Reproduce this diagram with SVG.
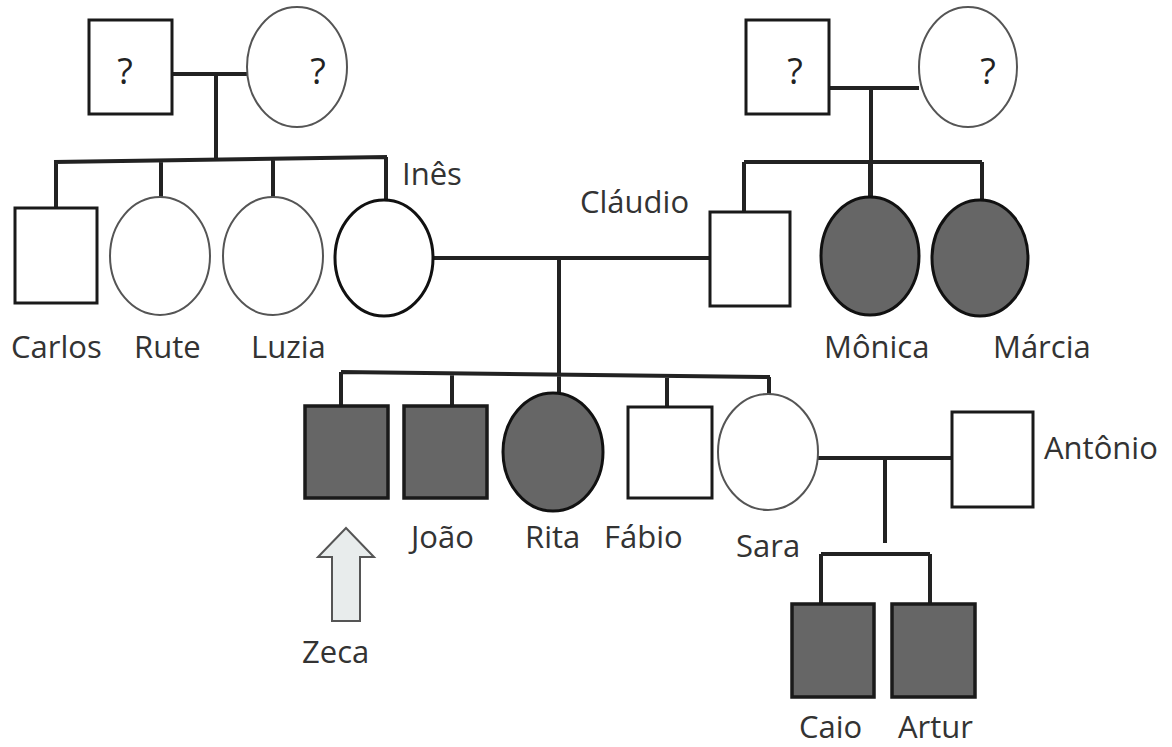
<svg xmlns="http://www.w3.org/2000/svg" width="1172" height="747" viewBox="0 0 1172 747">
<style>
.sq{fill:#fff;stroke:#1a1a1a;stroke-width:3}
.sqa{fill:#666;stroke:#1a1a1a;stroke-width:3.5}
.ci{fill:#fff;stroke:#555;stroke-width:2}
.cib{fill:#fff;stroke:#111;stroke-width:3}
.cia{fill:#666;stroke:#111;stroke-width:3}
.ln{fill:none;stroke:#222;stroke-width:4;stroke-linecap:butt}
text{font-family:"Open Sans","Noto Sans",sans-serif;font-size:31px;fill:#333}
.q{font-size:36px;fill:#222}
</style>
<rect width="1172" height="747" fill="#fff"/>
<g id="connectors">
<path class="ln" d="M172 74H247M216 74V160M54 162L387 157M56 162V208M161 160V197M273 159V197M386 157V200"/>
<path class="ln" d="M829 88H919M871 88V197M744 162H982M744 162V212M870 162V197M982 162V200"/>
<path class="ln" d="M433 258H710M559 258V393M341 372L770 377M341 372V406M452 373V406M667 375V406M769 377V394"/>
<path class="ln" d="M818 458H952M885 458V543M821 554H930M821 554V604M930 554V604"/>
</g>
<g id="gf1"><rect class="sq" x="89" y="20" width="83" height="94"/><text class="q" x="125" y="84" text-anchor="middle">?</text></g>
<g id="gm1"><ellipse class="ci" cx="297" cy="67" rx="50" ry="60"/><text class="q" x="318" y="84" text-anchor="middle">?</text></g>
<g id="gf2"><rect class="sq" x="746" y="20" width="83" height="94"/><text class="q" x="795" y="84" text-anchor="middle">?</text></g>
<g id="gm2"><ellipse class="ci" cx="968" cy="67" rx="49" ry="60"/><text class="q" x="988" y="84" text-anchor="middle">?</text></g>
<g id="carlos"><rect class="sq" x="15" y="208" width="82" height="95"/><text x="11" y="358">Carlos</text></g>
<g id="rute"><ellipse class="ci" cx="160" cy="256" rx="50" ry="59"/><text x="134" y="358">Rute</text></g>
<g id="luzia"><ellipse class="ci" cx="273" cy="256" rx="50" ry="59"/><text x="251" y="358">Luzia</text></g>
<g id="ines"><ellipse class="cib" cx="384" cy="258" rx="49" ry="58"/><text x="402" y="185">Inês</text></g>
<g id="claudio"><rect class="sq" x="710" y="212" width="80" height="94"/><text x="580" y="213">Cláudio</text></g>
<g id="monica"><ellipse class="cia" cx="870" cy="256" rx="49" ry="59"/><text x="824" y="358">Mônica</text></g>
<g id="marcia"><ellipse class="cia" cx="980" cy="258" rx="48" ry="58"/><text x="993" y="358">Márcia</text></g>
<g id="zeca"><rect class="sqa" x="305" y="406" width="83" height="92"/><polygon points="346,528 374,557 360,557 360,621 332,621 332,557 318,557" fill="#e8ecec" stroke="#555" stroke-width="2"/><text x="302" y="663">Zeca</text></g>
<g id="joao"><rect class="sqa" x="404" y="406" width="83" height="92"/><text x="411" y="548">João</text></g>
<g id="rita"><ellipse class="cia" cx="553" cy="452" rx="50" ry="59"/><text x="525" y="548">Rita</text></g>
<g id="fabio"><rect class="sq" x="628" y="407" width="84" height="91"/><text x="604" y="548">Fábio</text></g>
<g id="sara"><ellipse class="ci" cx="768" cy="452" rx="50" ry="58"/><text x="736" y="557">Sara</text></g>
<g id="antonio"><rect class="sq" x="952" y="412" width="81" height="95"/><text x="1044" y="459">Antônio</text></g>
<g id="caio"><rect class="sqa" x="792" y="604" width="82" height="93"/><text x="799" y="738">Caio</text></g>
<g id="artur"><rect class="sqa" x="892" y="604" width="83" height="93"/><text x="898" y="738">Artur</text></g>
</svg>
